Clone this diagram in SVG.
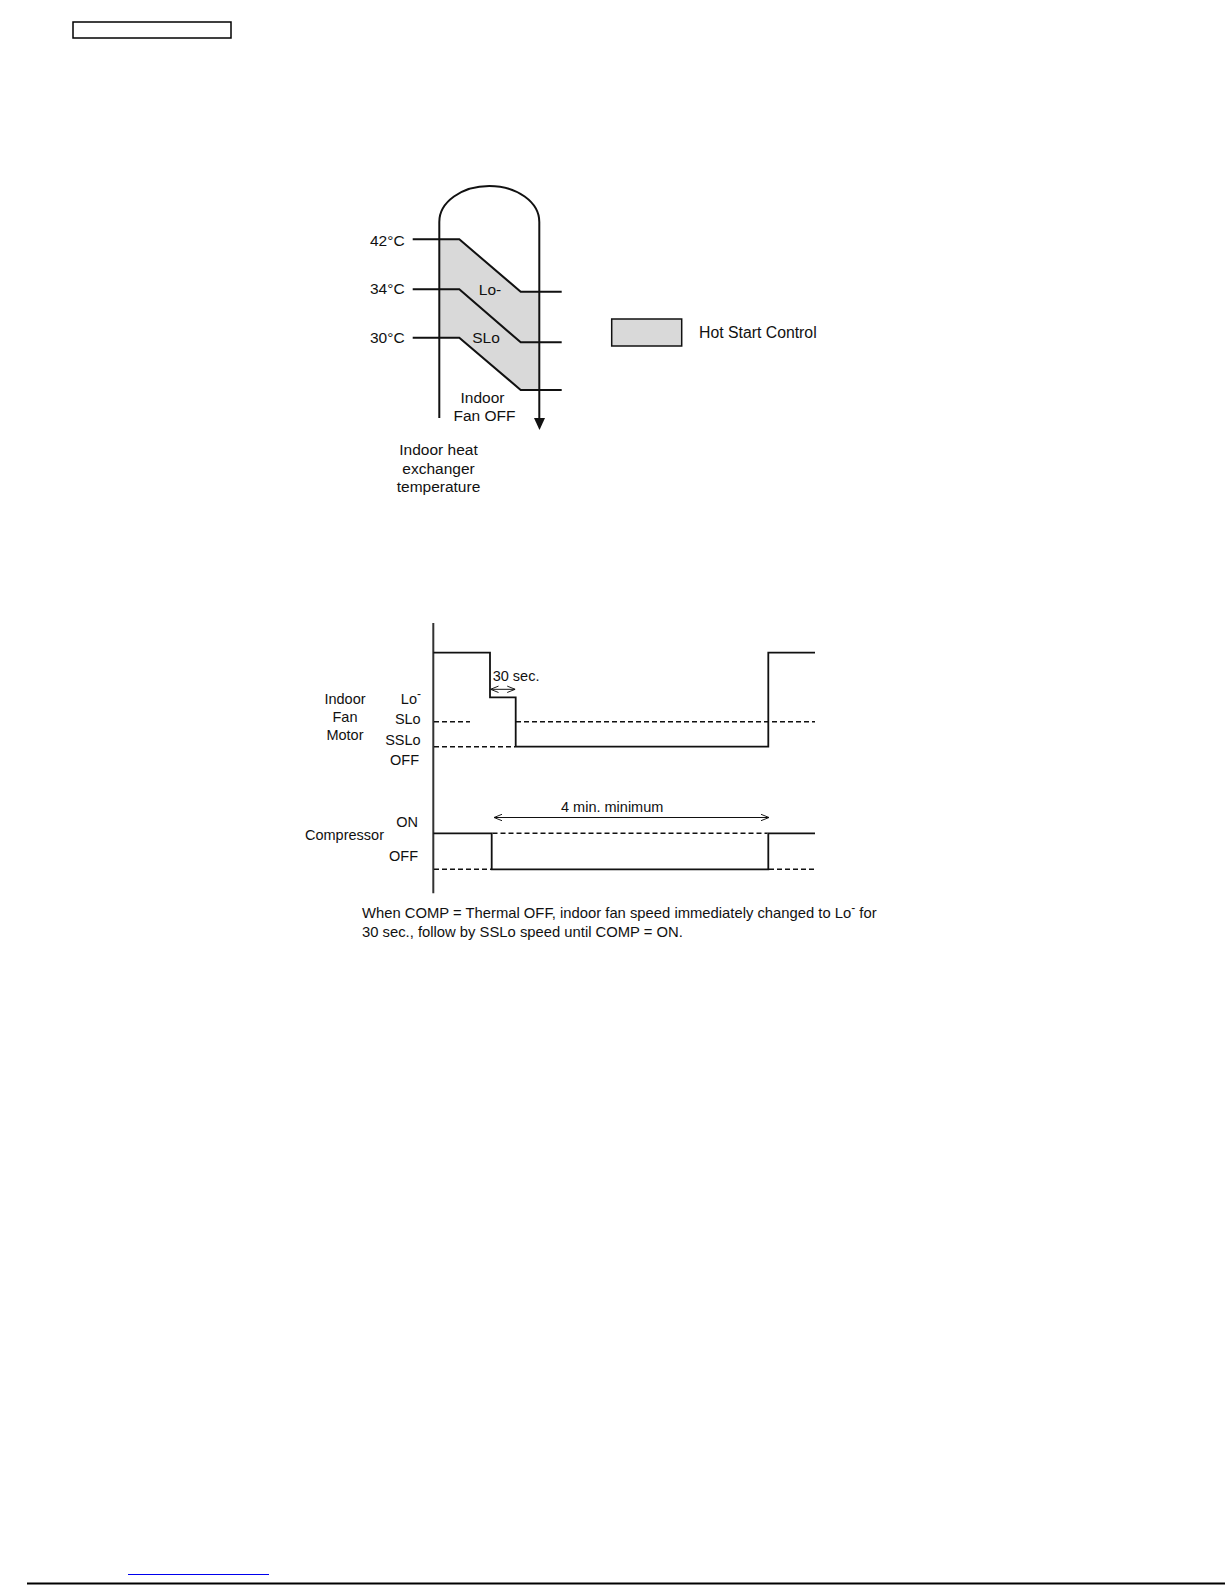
<svg xmlns="http://www.w3.org/2000/svg" width="1225" height="1585" viewBox="0 0 1225 1585">
<style>
text{font-family:"Liberation Sans",Arial,sans-serif;fill:#111}
.t1{font-size:15.5px}
.t2{font-size:14.5px}
.t3{font-size:14.8px}
.ln{stroke:#111;stroke-width:2;fill:none}
.sig{stroke:#111;stroke-width:1.8;fill:none}
.dash{stroke:#111;stroke-width:1.6;fill:none;stroke-dasharray:5 3}
.thin{stroke:#111;stroke-width:1;fill:none}
</style>
<defs>
<marker id="open" viewBox="0 0 10 10" refX="10" refY="5" markerWidth="8" markerHeight="8" markerUnits="userSpaceOnUse" orient="auto-start-reverse">
<polyline points="0,1 10,5 0,9" fill="none" stroke="#111" stroke-width="1.2"/>
</marker>
</defs>
<rect width="1225" height="1585" fill="#fff"/>
<g id="header-box"><rect x="73" y="22" width="158" height="16" fill="none" stroke="#000" stroke-width="1.5"/></g>

<g id="hot-start-diagram">
<polygon points="439.3,239.3 459.3,239.3 520.7,291.7 539.3,291.7 539.3,390 520.7,390 459.3,337.7 439.3,337.7" fill="#d9d9d9"/>
<path class="ln" d="M439.3,418 V222 A50,36 0 0 1 539.3,222 V420"/>
<path d="M534,418 L545,418 L539.5,430 Z" fill="#111"/>
<polyline class="ln" points="412.7,239.3 459.3,239.3 520.7,291.7 561.7,291.7"/>
<polyline class="ln" points="412.7,289.3 459.3,289.3 520.7,342.3 561.7,342.3"/>
<polyline class="ln" points="412.7,337.7 459.3,337.7 520.7,390 561.7,390"/>
<text class="t1" x="370" y="246">42°C</text>
<text class="t1" x="370" y="294">34°C</text>
<text class="t1" x="370" y="342.7">30°C</text>
<text class="t1" x="490" y="295" text-anchor="middle">Lo-</text>
<text class="t1" x="486" y="342.7" text-anchor="middle">SLo</text>
<text class="t1" x="482.5" y="403.3" text-anchor="middle">Indoor</text>
<text class="t1" x="484.5" y="420.7" text-anchor="middle">Fan OFF</text>
<text class="t1" x="438.5" y="455" text-anchor="middle">Indoor heat</text>
<text class="t1" x="438.5" y="473.5" text-anchor="middle">exchanger</text>
<text class="t1" x="438.5" y="492" text-anchor="middle">temperature</text>
</g>

<g id="legend">
<rect x="611.7" y="319" width="70" height="27" fill="#d9d9d9" stroke="#111" stroke-width="1.5"/>
<text x="699" y="337.7" font-size="15.8">Hot Start Control</text>
</g>

<g id="timing-chart-labels">
<text class="t2" x="345" y="704" text-anchor="middle">Indoor</text>
<text class="t2" x="345" y="722" text-anchor="middle">Fan</text>
<text class="t2" x="345" y="740" text-anchor="middle">Motor</text>
<text class="t2" x="421" y="704" text-anchor="end">Lo<tspan font-size="12" dy="-6.5">-</tspan></text>
<text class="t2" x="420.7" y="724" text-anchor="end">SLo</text>
<text class="t2" x="420.7" y="745" text-anchor="end">SSLo</text>
<text class="t2" x="419" y="765" text-anchor="end">OFF</text>
<text class="t2" x="305" y="840">Compressor</text>
<text class="t2" x="418" y="826.7" text-anchor="end">ON</text>
<text class="t2" x="418" y="861" text-anchor="end">OFF</text>
<text class="t2" x="492.7" y="680.7">30 sec.</text>
<text class="t2" x="561" y="811.7">4 min. minimum</text>
<text class="t3" x="362" y="918">When COMP = Thermal OFF, indoor fan speed immediately changed to Lo<tspan font-size="12" dy="-6.5">-</tspan><tspan dy="6.5"> for</tspan></text>
<text class="t3" x="362" y="936.5">30 sec., follow by SSLo speed until COMP = ON.</text>
</g>

<g id="connectors">
<line x1="433.3" y1="623" x2="433.3" y2="893.3" stroke="#333" stroke-width="2"/>
<polyline class="sig" points="433.3,652.7 490,652.7 490,697.3 515.7,697.3 515.7,746.7 768.3,746.7 768.3,652.7 815,652.7"/>
<line class="dash" x1="434" y1="721.7" x2="470" y2="721.7"/>
<line class="dash" x1="516" y1="721.7" x2="815" y2="721.7"/>
<line class="dash" x1="434" y1="746.7" x2="515" y2="746.7"/>
<line class="thin" x1="490.5" y1="689.3" x2="515.2" y2="689.3" marker-start="url(#open)" marker-end="url(#open)"/>
<polyline class="sig" points="433.3,833.3 491.7,833.3 491.7,869.3 768.3,869.3 768.3,833.3 815,833.3"/>
<line class="dash" x1="492.5" y1="833.3" x2="767.5" y2="833.3"/>
<line class="dash" x1="434" y1="869.3" x2="491" y2="869.3"/>
<line class="dash" x1="769" y1="869.3" x2="815" y2="869.3"/>
<line class="thin" x1="494" y1="817.5" x2="769" y2="817.5" marker-start="url(#open)" marker-end="url(#open)"/>
</g>

<g id="footer">
<line x1="128" y1="1574.5" x2="269" y2="1574.5" stroke="#0000ee" stroke-width="1.2"/>
<line x1="27" y1="1583.5" x2="1225" y2="1583.5" stroke="#000" stroke-width="2"/>
</g>
</svg>
